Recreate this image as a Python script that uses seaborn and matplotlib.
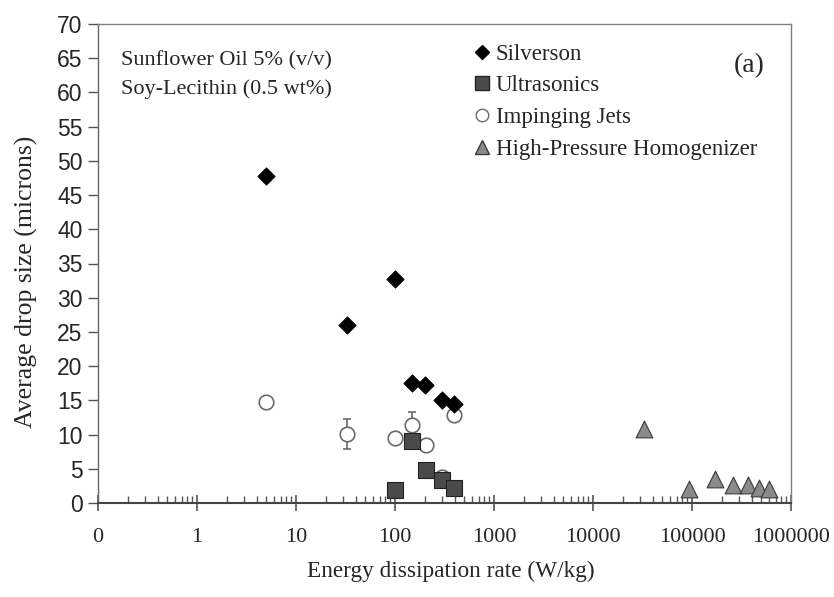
import numpy as np
import pandas as pd
import matplotlib
matplotlib.use("Agg")
import matplotlib.pyplot as plt
import seaborn as sns
from matplotlib.ticker import FixedLocator, FixedFormatter, LogLocator, NullFormatter

# ---- data ----
silverson_x = [5, 33, 100, 150, 200, 300, 390]
silverson_y = [47.8, 26.0, 32.7, 17.5, 17.3, 15.0, 14.5]

ultra_x = [100, 150, 205, 300, 390]
ultra_y = [1.9, 9.1, 4.8, 3.4, 2.2]

jets_x = [5, 33, 100, 150, 205, 300, 390]
jets_y = [14.8, 10.1, 9.5, 11.4, 8.5, 3.8, 12.9]
jets_err = [0, 2.2, 0, 1.9, 0, 0, 0]

hph_x = [33000, 93000, 170000, 260000, 370000, 480000, 600000]
hph_y = [10.8, 2.0, 3.5, 2.6, 2.6, 2.2, 2.0]

series_names = ["Silverson", "Ultrasonics", "Impinging Jets", "High-Pressure Homogenizer"]
xtick_vals = [0.1, 1, 10, 100, 1000, 10000, 100000, 1000000]
xtick_labels = ["0", "1", "10", "100", "1000", "10000", "100000", "1000000"]
ytick_vals = list(range(0, 75, 5))

df = pd.DataFrame({
    "x": silverson_x + ultra_x + jets_x + hph_x,
    "y": silverson_y + ultra_y + jets_y + hph_y,
    "method": ([series_names[0]] * len(silverson_x) + [series_names[1]] * len(ultra_x)
               + [series_names[2]] * len(jets_x) + [series_names[3]] * len(hph_x)),
})

sns.set_style("ticks")
serif = ["Liberation Serif", "DejaVu Serif"]
sans = ["Liberation Sans", "DejaVu Sans"]

fig = plt.figure(figsize=(8.34, 5.97), dpi=100)
ax = fig.add_axes([98 / 834, 94 / 597, 693 / 834, 479 / 597])

styles = {
    "Silverson": dict(marker="D", s=75, color="black", edgecolor="black", linewidth=0.8),
    "Ultrasonics": dict(marker="s", s=135, color="#4a4a4a", edgecolor="#222222", linewidth=0.8),
    "Impinging Jets": dict(marker="o", s=110, color="white", edgecolor="#6a6a6a", linewidth=1.2),
    "High-Pressure Homogenizer": dict(marker="^", s=145, color="#8a8a8a", edgecolor="#3a3a3a", linewidth=0.8),
}

# error bars for impinging jets
jx = np.array(jets_x, float)
jy = np.array(jets_y, float)
je = np.array(jets_err, float)
m = je > 0
ax.errorbar(jx[m], jy[m], yerr=je[m], fmt="none", ecolor="#6a6a6a", elinewidth=1.2,
            capsize=3, capthick=1.2, zorder=1)

order = ["Impinging Jets", "Ultrasonics", "High-Pressure Homogenizer", "Silverson"]
for name in order:
    sub = df[df["method"] == name]
    sns.scatterplot(data=sub, x="x", y="y", ax=ax, zorder=3, legend=False, **styles[name])

ax.set_xscale("log")
ax.set_xlim(0.1, 1e6)
ax.set_ylim(0, 70)

ax.xaxis.set_major_locator(FixedLocator(xtick_vals))
ax.xaxis.set_major_formatter(FixedFormatter(xtick_labels))
ax.xaxis.set_minor_locator(LogLocator(base=10, subs=np.arange(2, 10)))
ax.xaxis.set_minor_formatter(NullFormatter())
ax.set_yticks(ytick_vals)

for lab in ax.get_xticklabels():
    lab.set_fontfamily(serif)
    lab.set_fontsize(16)
for lab in ax.get_yticklabels():
    lab.set_fontfamily(sans)
    lab.set_fontsize(16.5)

ax.tick_params(axis="x", which="major", direction="inout", length=12, width=1.2, color="#555555", pad=12)
ax.tick_params(axis="x", which="minor", direction="in", length=5, width=1.0, color="#555555")
ax.tick_params(axis="y", which="major", direction="out", length=7, width=1.0, color="#555555", pad=4)

for sp in ax.spines.values():
    sp.set_color("#808080")
    sp.set_linewidth(1.0)
ax.spines["bottom"].set_color("#444444")
ax.spines["bottom"].set_linewidth(1.5)
ax.spines["left"].set_color("#666666")

ax.set_xlabel("Energy dissipation rate (W/kg)", fontfamily=serif, fontsize=16.75)
ax.xaxis.set_label_coords(0.509, -0.121)
ax.set_ylabel("Average drop size (microns)", fontfamily=serif, fontsize=18.5)
ax.yaxis.set_label_coords(-0.086, 0.461)

ax.text(0.033, 0.944, "Sunflower Oil 5% (v/v)\nSoy-Lecithin (0.5 wt%)", transform=ax.transAxes,
        fontfamily=serif, fontsize=16, va="top", ha="left", linespacing=1.6)
ax.text(0.9625, 0.914, "(a)", transform=ax.transAxes, fontfamily=serif, fontsize=20,
        va="center", ha="right")

handles = [
    plt.Line2D([], [], linestyle="none", marker="D", markersize=7, markerfacecolor="black", markeredgecolor="black"),
    plt.Line2D([], [], linestyle="none", marker="s", markersize=10, markerfacecolor="#4a4a4a", markeredgecolor="#222222"),
    plt.Line2D([], [], linestyle="none", marker="o", markersize=9, markerfacecolor="white", markeredgecolor="#6a6a6a"),
    plt.Line2D([], [], linestyle="none", marker="^", markersize=10, markerfacecolor="#8a8a8a", markeredgecolor="#3a3a3a"),
]
leg = ax.legend(handles, series_names, loc="upper left", bbox_to_anchor=(0.518, 0.992),
                frameon=False, prop={"family": serif, "size": 16.5}, handlelength=0.8,
                handletextpad=0.2, labelspacing=0.46, borderaxespad=0.3)

fig.savefig("out.png", dpi=100)
